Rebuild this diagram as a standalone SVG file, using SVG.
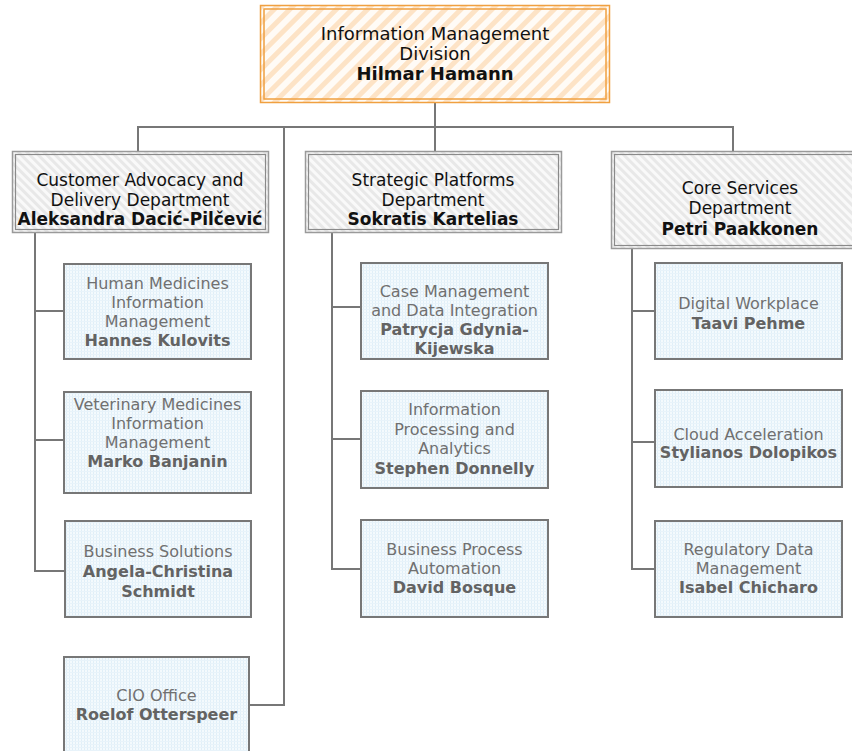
<svg xmlns="http://www.w3.org/2000/svg" width="852" height="751" viewBox="0 0 852 751">
<style>
text{font-family:"DejaVu Sans","Verdana",sans-serif;text-anchor:middle}
.t{font-size:18px;fill:#111}
.d{font-size:17px;fill:#111}
.c{font-size:16px;fill:#707070}
.b{font-weight:bold}
.cb{font-weight:bold;fill:#636363}
.conn{fill:none;stroke:#777;stroke-width:2}
.child{fill:url(#dots);stroke:#777;stroke-width:2}
.dept-o{fill:url(#gstripe);stroke:#9a9a9a;stroke-width:1.5}
.dept-i{fill:none;stroke:#8a8a8a;stroke-width:1.2}
.top-o{fill:url(#ostripe);stroke:#f0a040;stroke-width:1.5}
.top-i{fill:none;stroke:#f0a040;stroke-width:1.5}
</style>
<defs>
<pattern id="ostripe" width="11" height="11" patternUnits="userSpaceOnUse" patternTransform="rotate(45)">
<rect width="11" height="11" fill="#fffbf6"/>
<rect width="5" height="11" fill="#fde3c6"/>
</pattern>
<pattern id="gstripe" width="6" height="6" patternUnits="userSpaceOnUse" patternTransform="rotate(-45)">
<rect width="6" height="6" fill="#f9f9f9"/>
<rect width="3" height="6" fill="#e8e8e8"/>
</pattern>
<pattern id="dots" width="3" height="3" patternUnits="userSpaceOnUse">
<rect width="3" height="3" fill="#f4fafd"/>
<rect width="1" height="3" fill="#e0eff8"/>
<rect width="3" height="1" fill="#e8f3fa"/>
</pattern>
</defs>
<g id="connectors">
<path class="conn" d="M435 102V151"/>
<path class="conn" d="M138 151V127H733V151"/>
<path class="conn" d="M284 127V705H249"/>
<path class="conn" d="M35 232V571H65M35 311H64M35 440H64"/>
<path class="conn" d="M332 232V569H361M332 307H361M332 439H361"/>
<path class="conn" d="M632 248V569H655M632 311H655M632 442H655"/>
</g>
<g id="n-division">
<rect class="top-o" x="260.5" y="5.5" width="349" height="97"/>
<rect class="top-i" x="264" y="9" width="342" height="90"/>
<text class="t" x="435" y="40">Information Management</text>
<text class="t" x="435" y="60">Division</text>
<text class="t b" x="435" y="80">Hilmar Hamann</text>
</g>
<g id="n-cad">
<rect class="dept-o" x="12.5" y="151.5" width="256" height="81"/>
<rect class="dept-i" x="15.5" y="154.5" width="250" height="75"/>
<text class="d" x="140" y="186">Customer Advocacy and</text>
<text class="d" x="140" y="206">Delivery Department</text>
<text class="d b" x="140" y="225">Aleksandra Dacić-Pilčević</text>
</g>
<g id="n-spd">
<rect class="dept-o" x="305.5" y="151.5" width="256" height="81"/>
<rect class="dept-i" x="308.5" y="154.5" width="250" height="75"/>
<text class="d" x="433" y="186">Strategic Platforms</text>
<text class="d" x="433" y="206">Department</text>
<text class="d b" x="433" y="225">Sokratis Kartelias</text>
</g>
<g id="n-csd">
<rect class="dept-o" x="611.5" y="151.5" width="256" height="97"/>
<rect class="dept-i" x="614.5" y="154.5" width="250" height="91"/>
<text class="d" x="740" y="194">Core Services</text>
<text class="d" x="740" y="214">Department</text>
<text class="d b" x="740" y="235">Petri Paakkonen</text>
</g>
<g id="n-hmim">
<rect class="child" x="64" y="264" width="187" height="95"/>
<text class="c" x="157.5" y="289">Human Medicines</text>
<text class="c" x="157.5" y="308">Information</text>
<text class="c" x="157.5" y="327">Management</text>
<text class="c cb" x="157.5" y="346">Hannes Kulovits</text>
</g>
<g id="n-vmim">
<rect class="child" x="64" y="392" width="187" height="101"/>
<text class="c" x="157.5" y="410">Veterinary Medicines</text>
<text class="c" x="157.5" y="429">Information</text>
<text class="c" x="157.5" y="448">Management</text>
<text class="c cb" x="157.5" y="467">Marko Banjanin</text>
</g>
<g id="n-bs">
<rect class="child" x="65" y="521" width="186" height="96"/>
<text class="c" x="158" y="557">Business Solutions</text>
<text class="c cb" x="158" y="577">Angela-Christina</text>
<text class="c cb" x="158" y="597">Schmidt</text>
</g>
<g id="n-cio">
<rect class="child" x="64" y="657" width="185" height="97"/>
<text class="c" x="156.5" y="701">CIO Office</text>
<text class="c cb" x="156.5" y="720">Roelof Otterspeer</text>
</g>
<g id="n-cmdi">
<rect class="child" x="361" y="263" width="187" height="96"/>
<text class="c" x="454.5" y="297">Case Management</text>
<text class="c" x="454.5" y="316">and Data Integration</text>
<text class="c cb" x="454.5" y="335">Patrycja Gdynia-</text>
<text class="c cb" x="454.5" y="354">Kijewska</text>
</g>
<g id="n-ipa">
<rect class="child" x="361" y="391" width="187" height="97"/>
<text class="c" x="454.5" y="415">Information</text>
<text class="c" x="454.5" y="435">Processing and</text>
<text class="c" x="454.5" y="454">Analytics</text>
<text class="c cb" x="454.5" y="474">Stephen Donnelly</text>
</g>
<g id="n-bpa">
<rect class="child" x="361" y="520" width="187" height="97"/>
<text class="c" x="454.5" y="555">Business Process</text>
<text class="c" x="454.5" y="574">Automation</text>
<text class="c cb" x="454.5" y="593">David Bosque</text>
</g>
<g id="n-dw">
<rect class="child" x="655" y="263" width="187" height="96"/>
<text class="c" x="748.5" y="309">Digital Workplace</text>
<text class="c cb" x="748.5" y="329">Taavi Pehme</text>
</g>
<g id="n-ca">
<rect class="child" x="655" y="390" width="187" height="97"/>
<text class="c" x="748.5" y="440">Cloud Acceleration</text>
<text class="c cb" x="748.5" y="458">Stylianos Dolopikos</text>
</g>
<g id="n-rdm">
<rect class="child" x="655" y="521" width="187" height="96"/>
<text class="c" x="748.5" y="555">Regulatory Data</text>
<text class="c" x="748.5" y="574">Management</text>
<text class="c cb" x="748.5" y="593">Isabel Chicharo</text>
</g>
</svg>
